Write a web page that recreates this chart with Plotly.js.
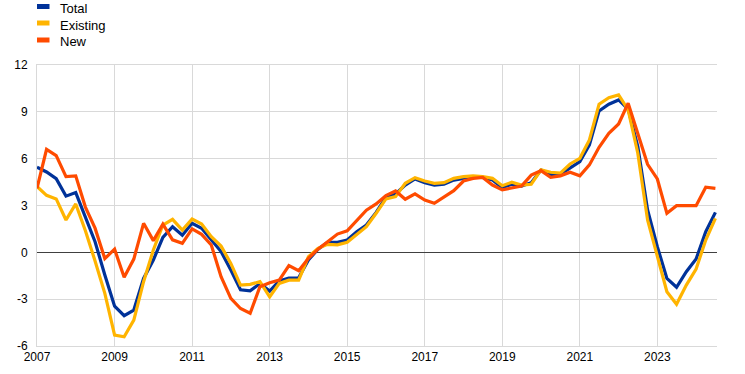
<!DOCTYPE html>
<html>
<head>
<meta charset="utf-8">
<script src="https://cdn.plot.ly/plotly-3.0.1.min.js"></script>
<style>html,body{margin:0;padding:0;background:#fff;}#chart{width:745px;height:374px;}</style>
</head>
<body>
<div id="chart"></div>
<script>
// Quarterly observations, 2007 Q1 .. 2024 Q3 (first day of each quarter)
const quarters = [
"2007-01-01","2007-04-01","2007-07-01","2007-10-01",
"2008-01-01","2008-04-01","2008-07-01","2008-10-01",
"2009-01-01","2009-04-01","2009-07-01","2009-10-01",
"2010-01-01","2010-04-01","2010-07-01","2010-10-01",
"2011-01-01","2011-04-01","2011-07-01","2011-10-01",
"2012-01-01","2012-04-01","2012-07-01","2012-10-01",
"2013-01-01","2013-04-01","2013-07-01","2013-10-01",
"2014-01-01","2014-04-01","2014-07-01","2014-10-01",
"2015-01-01","2015-04-01","2015-07-01","2015-10-01",
"2016-01-01","2016-04-01","2016-07-01","2016-10-01",
"2017-01-01","2017-04-01","2017-07-01","2017-10-01",
"2018-01-01","2018-04-01","2018-07-01","2018-10-01",
"2019-01-01","2019-04-01","2019-07-01","2019-10-01",
"2020-01-01","2020-04-01","2020-07-01","2020-10-01",
"2021-01-01","2021-04-01","2021-07-01","2021-10-01",
"2022-01-01","2022-04-01","2022-07-01","2022-10-01",
"2023-01-01","2023-04-01","2023-07-01","2023-10-01",
"2024-01-01","2024-04-01","2024-07-01"
];

const total = [
5.45,5.15,4.72,3.6, 3.83,2.28,0.68,-1.45,
-3.45,-4.06,-3.7,-1.67, -0.49,0.96,1.64,1.1,
1.86,1.54,0.8,0.05, -1.13,-2.4,-2.46,-2.0,
-2.48,-1.83,-1.65,-1.63, -0.49,0.2,0.64,0.64,
0.79,1.32,1.75,2.56, 3.52,3.74,4.31,4.7,
4.46,4.31,4.36,4.63, 4.74,4.8,4.8,4.63,
4.14,4.36,4.25,4.46, 5.28,5.0,5.0,5.42,
5.81,6.88,9.06,9.49, 9.76,9.17,6.77,2.71,
0.36,-1.67,-2.24,-1.24, -0.43,1.32,2.56
];

const existing = [
4.22,3.65,3.42,2.07, 3.1,1.38,-0.55,-2.63,
-5.3,-5.41,-4.34,-1.88, 0.15,1.75,2.11,1.43,
2.13,1.81,1.0,0.4, -0.71,-2.1,-2.05,-1.88,
-2.85,-1.99,-1.78,-1.78, -0.28,0.26,0.51,0.48,
0.64,1.17,1.64,2.5, 3.42,3.57,4.42,4.78,
4.57,4.42,4.46,4.74, 4.85,4.9,4.85,4.74,
4.27,4.49,4.31,4.36, 5.28,5.13,5.07,5.66,
6.02,7.2,9.49,9.91, 10.08,9.12,6.35,2.07,
-0.28,-2.52,-3.33,-2.1, -1.07,0.79,2.18
];

const newLoans = [
4.1,6.6,6.2,4.85, 4.9,2.9,1.55,-0.4,
0.2,-1.6,-0.43,1.86, 0.75,1.8,0.8,0.58,
1.5,1.15,0.47,-1.56, -2.95,-3.6,-3.9,-2.2,
-1.95,-1.78,-0.85,-1.18, -0.38,0.2,0.68,1.17,
1.38,2.07,2.7,3.1, 3.63,3.93,3.4,3.74,
3.35,3.14,3.57,3.95, 4.57,4.74,4.8,4.31,
4.0,4.14,4.25,4.95, 5.23,4.8,4.9,5.13,
4.9,5.6,6.73,7.63, 8.22,9.55,7.56,5.64,
4.7,2.5,2.99,2.99, 2.99,4.17,4.1
];

const seriesNames = ["Total","Existing","New"];
const seriesColors = ["#003299","#ffb400","#ff4b00"];
const seriesData = [total, existing, newLoans];

const yTicks = [-6,-3,0,3,6,9,12];

const W = 745, H = 374;
const M = {l:37, r:28, t:65, b:28};
const plotW = W - M.l - M.r, plotH = H - M.t - M.b;
const px2x = p => (p - M.l) / plotW;
const py2y = p => 1 + (M.t - p) / plotH;

const traces = seriesData.map((d, k) => ({
  x: quarters, y: d, type: "scatter", mode: "lines",
  name: seriesNames[k],
  line: {color: seriesColors[k], width: 3.2},
  showlegend: false, hoverinfo: "skip"
}));

const shapes = [], annotations = [];
const legendRows = [6.5, 23, 40];
seriesNames.forEach((n, k) => {
  shapes.push({type:"rect", xref:"paper", yref:"paper",
    x0: px2x(37), x1: px2x(49.5), y0: py2y(legendRows[k]-2.5), y1: py2y(legendRows[k]+2.5),
    fillcolor: seriesColors[k], line:{width:0}});
  annotations.push({xref:"paper", yref:"paper", x: px2x(57.5), y: py2y(legendRows[k]+2),
    xanchor:"left", yanchor:"middle", text: n, showarrow:false,
    font:{family:"Arial, 'Liberation Sans', sans-serif", size:13, color:"#000"}});
});

const layout = {
  width: W, height: H,
  margin: M,
  paper_bgcolor: "#fff", plot_bgcolor: "#fff",
  showlegend: false,
  font: {family:"Arial, 'Liberation Sans', sans-serif", size:12, color:"#000"},
  xaxis: {
    type: "date",
    range: ["2007-01-01", "2024-07-16"],
    tick0: "2007-01-01", dtick: "M24", tickformat: "%Y",
    showgrid: true, gridcolor: "#d9d9d9", gridwidth: 1,
    zeroline: false, showline: true, linecolor: "#d9d9d9", linewidth: 1, mirror: true,
    ticks: "", tickfont: {size: 12, color:"#000"}
  },
  yaxis: {
    range: [-6, 12], tickvals: yTicks, ticktext: yTicks.map(String),
    showgrid: true, gridcolor: "#d9d9d9", gridwidth: 1,
    zeroline: true, zerolinecolor: "#404040", zerolinewidth: 1,
    showline: true, linecolor: "#d9d9d9", linewidth: 1,
    ticks: "", ticklabelstandoff: 6, tickfont: {size: 12, color:"#000"}
  },
  shapes: shapes,
  annotations: annotations
};

Plotly.newPlot("chart", traces, layout, {staticPlot: true, displayModeBar: false});
</script>
</body>
</html>
